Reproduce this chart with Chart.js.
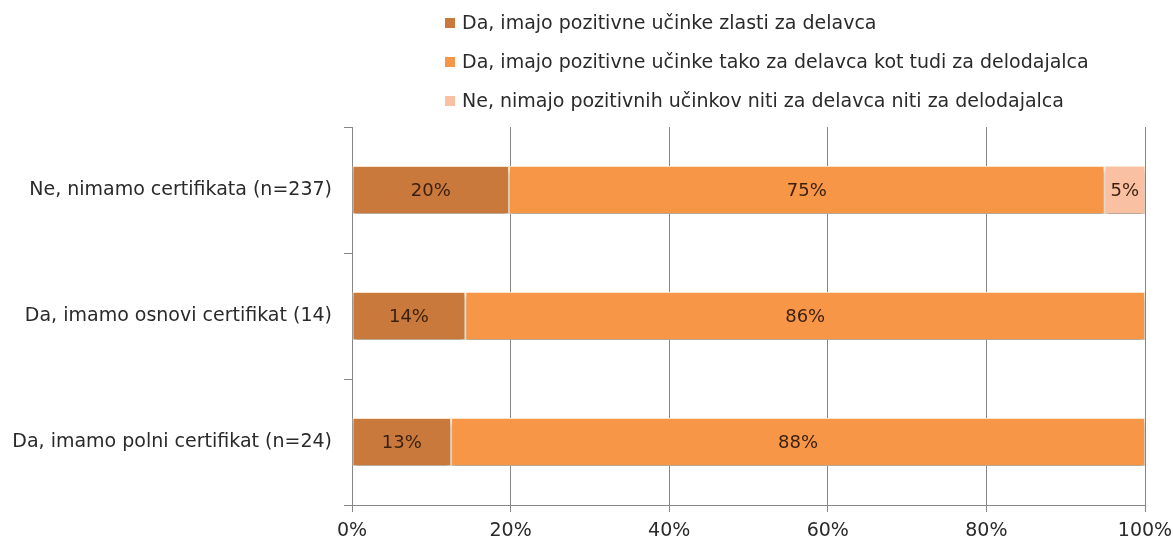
<!DOCTYPE html>
<html>
<head>
<meta charset="utf-8">
<script src="https://cdn.jsdelivr.net/npm/chart.js@4.4.1/dist/chart.umd.min.js"></script>
<style>
  html, body { margin: 0; padding: 0; background: #fff; }
  #wrap { position: relative; width: 1173px; height: 542px; }
  #legend {
    position: absolute; left: 445px; top: 3px;
    font-family: "DejaVu Sans", sans-serif; font-size: 19px; color: #2a2a2a;
  }
  #legend div { height: 39px; line-height: 38px; white-space: nowrap; }
  #legend span.box {
    display: inline-block; width: 10px; height: 10px; margin-right: 7px;
    vertical-align: 1px;
  }
</style>
</head>
<body>
<div id="wrap">
  <canvas id="barChart" width="1173" height="542"></canvas>
  <div id="legend"></div>
</div>
<script>
// Categories and series (percent of respondents)
const categories = [
    'Ne, nimamo certifikata (n=237)',
    'Da, imamo osnovi certifikat (14)',
    'Da, imamo polni certifikat (n=24)'
];
const seriesNames = [
    'Da, imajo pozitivne učinke zlasti za delavca',
    'Da, imajo pozitivne učinke tako za delavca kot tudi za delodajalca',
    'Ne, nimajo pozitivnih učinkov niti za delavca niti za delodajalca'
];
const onlyWorker = [19.8, 14.3, 12.5];
const bothSides = [75.1, 85.7, 87.5];
const noneEffect = [5.1, 0, 0];
const xTicks = [0, 20, 40, 60, 80, 100];

const colors = ['#c8793b', '#f79646', '#fac0a2'];
const fontFamily = '"DejaVu Sans", sans-serif';

// Percent labels inside bars
const barLabels = {
    id: 'barLabels',
    afterDatasetsDraw(chart) {
        const ctx = chart.ctx;
        ctx.save();
        ctx.font = '18px ' + fontFamily;
        ctx.fillStyle = '#3a1f10';
        ctx.textAlign = 'center';
        ctx.textBaseline = 'middle';
        chart.data.datasets.forEach((ds, i) => {
            chart.getDatasetMeta(i).data.forEach((bar, j) => {
                const v = ds.data[j];
                if (!v) return;
                ctx.fillText(Math.round(v) + '%', (bar.x + bar.base) / 2, bar.y + 1);
            });
        });
        ctx.restore();
    }
};

// Soft shadow under the bars
const barShadow = {
    id: 'barShadow',
    beforeDatasetsDraw(chart) {
        const ctx = chart.ctx;
        ctx.save();
        ctx.shadowColor = 'rgba(0,0,0,0.3)';
        ctx.shadowBlur = 5;
        ctx.shadowOffsetY = 4;
    },
    afterDatasetsDraw(chart) {
        chart.ctx.restore();
    }
};

function initializeBarChart() {
    const ctx = document.getElementById('barChart').getContext('2d');
    const series = [onlyWorker, bothSides, noneEffect];
    new Chart(ctx, {
        type: 'bar',
        data: {
            labels: categories,
            datasets: series.map((d, i) => ({
                label: seriesNames[i],
                data: d,
                backgroundColor: colors[i],
                borderColor: '#fbe6cf',
                borderWidth: 1,
                borderSkipped: false,
                categoryPercentage: 1,
                barPercentage: 0.38
            }))
        },
        options: {
            indexAxis: 'y',
            responsive: false,
            animation: false,
            layout: { padding: { top: 127, right: 28, bottom: 0, left: 0 } },
            plugins: {
                legend: { display: false },
                tooltip: { enabled: false }
            },
            scales: {
                x: {
                    stacked: true,
                    min: 0,
                    max: 100,
                    afterBuildTicks: (axis) => { axis.ticks = xTicks.map(v => ({ value: v })); },
                    afterFit: (axis) => {
                        axis.height = 37;
                        axis.paddingLeft = 0;
                        axis.paddingRight = 0;
                    },
                    ticks: {
                        callback: (v) => v + '%',
                        color: '#2a2a2a',
                        font: { family: fontFamily, size: 19 },
                        padding: 8
                    },
                    grid: { color: '#868686', tickLength: 7, lineWidth: 1 },
                    border: { color: '#868686' }
                },
                y: {
                    stacked: true,
                    afterFit: (axis) => { axis.width = 352; },
                    ticks: {
                        color: '#2a2a2a',
                        font: { family: fontFamily, size: 19 },
                        padding: 12
                    },
                    grid: { offset: true, drawOnChartArea: false, color: '#868686', tickLength: 8 },
                    border: { color: '#868686' }
                }
            }
        },
        plugins: [barShadow, barLabels]
    });

    const legend = document.getElementById('legend');
    seriesNames.forEach((name, i) => {
        const row = document.createElement('div');
        row.innerHTML = '<span class="box" style="background:' + colors[i] + '"></span>' + name;
        legend.appendChild(row);
    });
}

document.addEventListener('DOMContentLoaded', initializeBarChart);
</script>
</body>
</html>
